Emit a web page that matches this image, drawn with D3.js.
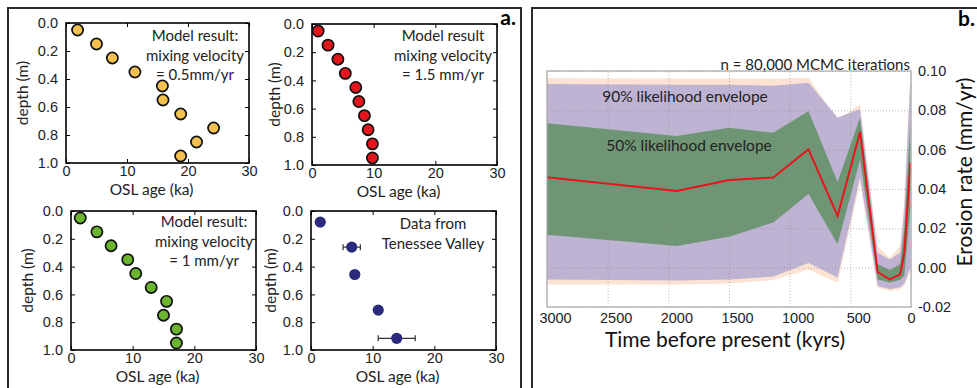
<!DOCTYPE html>
<html>
<head>
<meta charset="utf-8">
<script src="https://cdn.jsdelivr.net/npm/d3@7" charset="utf-8"></script>
<style>
  body { margin: 0; background: #fff; }
  svg { font-family: Lato, "Noto Sans", sans-serif; }
</style>
</head>
<body>
<svg width="977" height="388"></svg>
<script>
  // ---- panel a data (depth profiles) ----
  const oslTicks = [0, 10, 20, 30];
  const depthTicks = [0, 0.2, 0.4, 0.6, 0.8, 1.0];
  const modelDepth = [0.05, 0.15, 0.25, 0.35, 0.45, 0.55, 0.65, 0.75, 0.85, 0.95];
  const age05 = [1.9, 5.0, 7.6, 11.3, 15.8, 15.9, 18.8, 24.2, 21.4, 18.8];
  const age15 = [1.0, 2.6, 4.2, 5.4, 7.1, 7.6, 8.5, 9.1, 9.8, 9.8];
  const age10 = [1.5, 4.2, 6.5, 9.2, 10.5, 13.0, 15.5, 15.0, 17.1, 17.1];
  const tnDepth = [0.08, 0.26, 0.457, 0.713, 0.916];
  const tnAge = [1.5, 6.6, 7.1, 10.9, 13.9];
  const tnErr = [0, 1.4, 0.5, 0.6, 3.0];

  // ---- panel b data (erosion rate history) ----
  const timeKyr = [3000, 1930, 1500, 1135, 845, 605, 420, 275, 175, 90, 55, 5];
  const rateMedian = [0.046, 0.039, 0.0446, 0.0458, 0.0602, 0.0263, 0.069, -0.0022, -0.006, -0.0034, 0.0076, 0.0534];
  const env50Hi = [0.0734, 0.067, 0.0712, 0.0686, 0.0797, 0.0436, 0.0763, 0.0017, -0.0012, 0.0017, 0.02, 0.075];
  const env50Lo = [0.0167, 0.011, 0.0157, 0.023, 0.0374, 0.0119, 0.055, -0.006, -0.0076, -0.0063, -0.004, 0.03];
  const env90Hi = [0.0934, 0.093, 0.093, 0.0925, 0.094, 0.0763, 0.0805, 0.0076, 0.0042, 0.0076, 0.03, 0.097];
  const env90Lo = [-0.006, -0.0065, -0.006, -0.0045, 0.0024, -0.005, 0.046, -0.0093, -0.011, -0.010, -0.008, 0.0];
  const env95Hi = [0.0963, 0.0962, 0.0962, 0.096, 0.0966, 0.0754, 0.083, 0.011, 0.005, 0.011, 0.035, 0.099];
  const env95Lo = [-0.0085, -0.0085, -0.008, -0.0063, -0.0009, -0.0077, 0.043, -0.010, -0.012, -0.011, -0.009, -0.002];
  const timeTicks = [3000, 2500, 2000, 1500, 1000, 500, 0];
  const rateTicks = [-0.02, 0, 0.02, 0.04, 0.06, 0.08, 0.10];

  const svg = d3.select('svg');

  // panel frames
  svg.append('rect').attr('x', 8).attr('y', 8).attr('width', 513).attr('height', 400)
    .attr('fill', 'none').attr('stroke', '#2a2a2a').attr('stroke-width', 2);
  svg.append('rect').attr('x', 532).attr('y', 8).attr('width', 470).attr('height', 400)
    .attr('fill', 'none').attr('stroke', '#2a2a2a').attr('stroke-width', 2);

  svg.append('text').attr('x', 516).attr('y', 25).attr('text-anchor', 'end')
    .style('font-size', '21px').style('font-weight', 'bold').text('a.');
  svg.append('text').attr('x', 975).attr('y', 26).attr('text-anchor', 'end')
    .style('font-size', '21px').style('font-weight', 'bold').text('b.');

  // one small depth-vs-age subplot
  function depthPlot(box, labelX, note, noteX, noteY) {
    const x = d3.scaleLinear().domain([0, 30]).range([box.left, box.right]);
    const y = d3.scaleLinear().domain([0, 1]).range([box.top, box.bottom]);
    const g = svg.append('g');
    const ax = (sel) => { sel.select('.domain').remove(); sel.selectAll('line').attr('stroke', '#000');
      sel.selectAll('text').style('font-size', '14.5px').attr('fill', '#222'); };
    g.append('g').attr('transform', `translate(${box.left},0)`)
      .call(d3.axisLeft(y).tickValues(depthTicks).tickSize(-4).tickPadding(8).tickFormat(d3.format('.1f'))).call(ax);
    g.append('g').attr('transform', `translate(${box.right},0)`)
      .call(d3.axisRight(y).tickValues(depthTicks).tickSize(-4).tickFormat('')).call(ax);
    g.append('g').attr('transform', `translate(0,${box.bottom})`)
      .call(d3.axisBottom(x).tickValues(oslTicks).tickSize(-4).tickPadding(3)).call(ax);
    g.append('g').attr('transform', `translate(0,${box.top})`)
      .call(d3.axisTop(x).tickValues(oslTicks).tickSize(-4).tickFormat('')).call(ax);
    g.append('rect').attr('x', box.left).attr('y', box.top)
      .attr('width', box.right - box.left).attr('height', box.bottom - box.top)
      .attr('fill', 'none').attr('stroke', '#000').attr('stroke-width', 1.6);
    g.append('text').attr('transform', `translate(${labelX},${(box.top + box.bottom) / 2}) rotate(-90)`)
      .attr('text-anchor', 'middle').attr('dy', '0.35em').style('font-size', '15.5px').attr('fill', '#222').text('depth (m)');
    g.append('text').attr('x', (box.left + box.right) / 2 - 6).attr('y', box.bottom + 32)
      .attr('text-anchor', 'middle').style('font-size', '15.5px').attr('fill', '#222').text('OSL age (ka)');
    note.forEach((t, i) => g.append('text').attr('x', noteX).attr('y', noteY + i * 19.5)
      .attr('text-anchor', 'middle').style('font-size', '15px').attr('fill', '#222').text(t));
    return { g, x, y };
  }

  function modelDots(p, ages, color) {
    p.g.selectAll(null).data(ages).enter().append('circle')
      .attr('cx', (d) => p.x(d)).attr('cy', (d, i) => p.y(modelDepth[i]))
      .attr('r', 5.6).attr('fill', color).attr('stroke', '#111').attr('stroke-width', 1.7);
  }

  const p1 = depthPlot({ left: 66, right: 249, top: 23, bottom: 163 }, 23,
    ['Model result:', 'mixing velocity', '= 0.5mm/yr'], 195, 41);
  modelDots(p1, age05, '#f4c150');

  const p2 = depthPlot({ left: 312, right: 497, top: 24, bottom: 165 }, 275,
    ['Model result', 'mixing velocity', '= 1.5 mm/yr'], 443, 41);
  modelDots(p2, age15, '#e3161d');

  const p3 = depthPlot({ left: 71, right: 256, top: 211, bottom: 350 }, 28,
    ['Model result:', 'mixing velocity', '= 1 mm/yr'], 204, 227);
  modelDots(p3, age10, '#6ab42e');

  const p4 = depthPlot({ left: 311, right: 496, top: 211, bottom: 350 }, 271,
    ['Data from', 'Tenessee Valley'], 433, 229);
  const tn = tnAge.map((a, i) => ({ age: a, depth: tnDepth[i], err: tnErr[i] })).filter((d) => d.err > 0);
  const errs = p4.g.selectAll(null).data(tn).enter().append('g');
  errs.append('line').attr('x1', (d) => p4.x(d.age - d.err)).attr('x2', (d) => p4.x(d.age + d.err))
    .attr('y1', (d) => p4.y(d.depth)).attr('y2', (d) => p4.y(d.depth))
    .attr('stroke', '#333').attr('stroke-width', 1.2);
  [-1, 1].forEach((s) => errs.append('line')
    .attr('x1', (d) => p4.x(d.age + s * d.err)).attr('x2', (d) => p4.x(d.age + s * d.err))
    .attr('y1', (d) => p4.y(d.depth) - 3).attr('y2', (d) => p4.y(d.depth) + 3)
    .attr('stroke', '#333').attr('stroke-width', 1.2));
  p4.g.selectAll(null).data(tnAge).enter().append('circle')
    .attr('cx', (d) => p4.x(d)).attr('cy', (d, i) => p4.y(tnDepth[i]))
    .attr('r', 5.6).attr('fill', '#2b2a7c');

  // ---- panel b ----
  const xT = d3.scaleLinear().domain([3000, 0]).range([547, 911]);
  const yR = d3.scaleLinear().domain([-0.02, 0.10]).range([307, 71]);
  const idx = d3.range(timeKyr.length);
  const b = svg.append('g');
  b.append('clipPath').attr('id', 'plotclip').append('rect')
    .attr('x', 547).attr('y', 71).attr('width', 364).attr('height', 236);
  const band = (lo, hi) => d3.area().x((i) => xT(timeKyr[i])).y0((i) => yR(lo[i])).y1((i) => yR(hi[i]));
  const bands = b.append('g').attr('clip-path', 'url(#plotclip)');
  bands.append('path').datum(idx).attr('d', band(env95Lo, env95Hi)).attr('fill', '#fbe2d3');
  bands.append('path').datum(idx).attr('d', band(env90Lo, env90Hi)).attr('fill', '#bfb3d4');
  bands.append('path').datum(idx).attr('d', band(env50Lo, env50Hi)).attr('fill', '#6f9674');

  const grid = (sel) => { sel.select('.domain').remove();
    sel.selectAll('line').attr('stroke', '#8a8a8a').attr('stroke-opacity', 0.6).attr('stroke-dasharray', '1,2'); };
  b.append('g').attr('transform', 'translate(0,307)')
    .call(d3.axisBottom(xT).tickValues(timeTicks).tickSize(-236).tickFormat('')).call(grid);
  b.append('g').attr('transform', 'translate(547,0)')
    .call(d3.axisLeft(yR).tickValues(rateTicks).tickSize(-364).tickFormat('')).call(grid);

  b.append('path').datum(idx).attr('clip-path', 'url(#plotclip)')
    .attr('d', d3.line().x((i) => xT(timeKyr[i])).y((i) => yR(rateMedian[i])))
    .attr('fill', 'none').attr('stroke', '#e8141b').attr('stroke-width', 2);

  b.append('rect').attr('x', 547).attr('y', 71).attr('width', 364).attr('height', 236)
    .attr('fill', 'none').attr('stroke', '#a8a8a8').attr('stroke-width', 1.2);

  const xAx = b.append('g').attr('transform', 'translate(0,307)')
    .call(d3.axisBottom(xT).tickValues(timeTicks).tickSize(0).tickPadding(6).tickFormat((d) => String(d)));
  xAx.select('.domain').remove();
  xAx.selectAll('text').style('font-size', '14.5px').attr('fill', '#222')
    .attr('dx', (d) => (d === 0 ? 0 : 8));
  const rateFmt = (d) => (d < 0 ? '-' : '') + Math.abs(d).toFixed(2);
  const yAx = b.append('g').attr('transform', 'translate(911,0)')
    .call(d3.axisRight(yR).tickValues(rateTicks).tickSize(0).tickPadding(7).tickFormat(rateFmt));
  yAx.select('.domain').remove();
  yAx.selectAll('text').style('font-size', '14.5px').attr('fill', '#222');

  b.append('text').attr('x', 910).attr('y', 70).attr('text-anchor', 'end')
    .style('font-size', '15px').attr('fill', '#222').text('n = 80,000 MCMC iterations');
  b.append('text').attr('x', 685).attr('y', 102).attr('text-anchor', 'middle')
    .style('font-size', '15.5px').attr('fill', '#222').text('90% likelihood envelope');
  b.append('text').attr('x', 689).attr('y', 151).attr('text-anchor', 'middle')
    .style('font-size', '15.5px').attr('fill', '#222').text('50% likelihood envelope');
  b.append('text').attr('x', 725).attr('y', 347).attr('text-anchor', 'middle')
    .style('font-size', '21px').attr('fill', '#111').text('Time before present (kyrs)');
  b.append('text').attr('transform', 'translate(965,172) rotate(-90)').attr('dy', '0.35em')
    .attr('text-anchor', 'middle').style('font-size', '21px').attr('fill', '#111').text('Erosion rate (mm/yr)');
</script>
</body>
</html>
